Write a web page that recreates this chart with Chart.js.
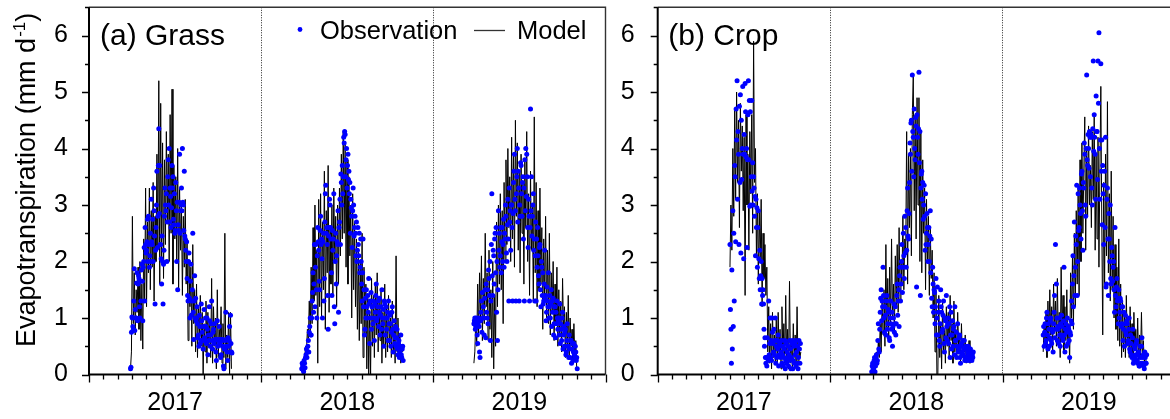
<!DOCTYPE html>
<html>
<head>
<meta charset="utf-8">
<script src="https://cdn.jsdelivr.net/npm/chart.js@4.4.0/dist/chart.umd.min.js"></script>
<style>
  html, body { margin: 0; padding: 0; background: #fff; overflow: hidden; }
  #wrap { position: relative; width: 1170px; height: 419px; overflow: hidden; background: #fff; }
  canvas { position: absolute; top: 0; }
  #grassChart { left: 0; }
  #cropChart { left: 610px; }
</style>
</head>
<body>
<div id="wrap">
  <canvas id="grassChart" width="615" height="419"></canvas>
  <canvas id="cropChart" width="580" height="419"></canvas>
</div>
<script>
// years on the x axis, one section of 365 days each
const years = ['2017', '2018', '2019'];
const daysPerYear = 365;
const yTicks = [0, 1, 2, 3, 4, 5, 6];
const modelStep = 2;   // model values every 2nd day
const obsStep = 1;     // observations daily

// first day of year of each season (2017, 2018, 2019)
const grassStart = [88, 86, 86];
const cropStart = [153, 88, 86];

// (a) Grass - model
const grassModel2017 = [
  0.1, 0.4, 2.8, 0.9, 1.8, 0.7, 1.5, 1.1, 1.9, 0.8,
  2.0, 0.6, 1.6, 0.45, 2.4, 1.3, 3.3, 1.2, 2.7, 1.8,
  3.3, 1.5, 2.9, 1.9, 3.4, 1.3, 2.8, 2.0, 3.9, 2.2,
  5.2, 1.6, 4.8, 2.0, 4.1, 1.7, 3.8, 2.3, 4.3, 2.7,
  3.9, 2.0, 4.6, 2.5, 5.05, 1.6, 3.7, 2.4, 3.5, 2.0,
  4.0, 1.5, 3.3, 2.2, 3.0, 1.4, 2.8, 1.9, 3.1, 1.6,
  2.4, 0.6, 2.0, 1.2, 1.9, 0.5, 2.3, 0.9, 1.5, 0.4,
  1.6, 0.3, 1.2, 0.7, 1.4, 0.5, 1.1, 0.0, 0.9, 0.4,
  1.3, 0.2, 1.1, 0.5, 0.9, 0.3, 1.7, 0.2, 1.2, 0.5,
  1.0, 0.1, 1.5, 0.3, 0.8, 0.6, 1.2, 0.2, 0.9, 0.3,
  2.5, 0.1, 0.7, 0.3, 1.1, 0.0, 1.1, 0.1
];
const grassModel2018 = [
  0.1, 0.2, 0.3, 0.2, 0.5, 0.4, 0.8, 0.6, 1.3, 0.7,
  1.9, 0.9, 2.6, 1.3, 3.0, 1.4, 2.2, 0.2, 3.1, 1.2,
  3.2, 1.0, 2.7, 1.5, 3.6, 0.8, 2.9, 1.8, 3.7, 1.1,
  2.6, 1.6, 3.0, 1.4, 3.3, 2.0, 2.8, 1.2, 3.0, 1.6,
  3.3, 2.1, 3.9, 2.4, 4.3, 2.5, 4.1, 1.9, 3.8, 1.6,
  3.5, 2.1, 3.0, 1.0, 3.2, 1.5, 2.7, 1.2, 2.4, 0.8,
  2.2, 0.6, 2.0, 0.9, 2.5, 0.3, 1.9, 0.7, 1.6, 0.1,
  1.4, 0.0, 1.1, 0.0, 1.7, 0.5, 1.4, 0.3, 1.6, 0.7,
  1.8, 0.4, 1.3, 0.6, 1.5, 0.2, 1.1, 0.5, 1.6, 0.3,
  1.2, 0.4, 1.4, 0.5, 1.0, 0.3, 1.3, 0.4, 0.9, 0.2,
  2.1, 0.4, 1.0, 0.3, 0.7, 0.2, 0.5, 0.4
];
const grassModel2019 = [
  0.2, 0.4, 1.0, 0.5, 1.6, 0.7, 1.8, 1.0, 2.1, 0.6,
  1.7, 0.9, 2.5, 1.2, 1.8, 0.6, 2.2, 0.8, 1.5, 0.3,
  2.0, 0.1, 1.4, 0.5, 2.7, 1.2, 3.0, 1.6, 3.2, 1.5,
  2.9, 0.9, 3.4, 2.0, 3.8, 2.3, 4.0, 2.6, 3.5, 2.0,
  4.2, 2.4, 3.9, 1.9, 4.5, 2.8, 4.1, 2.2, 3.6, 1.8,
  3.9, 2.5, 3.4, 1.6, 3.8, 2.6, 4.3, 2.0, 3.2, 1.4,
  3.6, 2.2, 3.0, 1.3, 4.56, 1.8, 3.4, 1.2, 2.9, 1.5,
  3.3, 1.6, 2.6, 0.8, 2.4, 1.3, 2.8, 1.0, 2.2, 0.9,
  2.5, 0.7, 1.8, 1.1, 2.0, 0.6, 1.6, 0.9, 1.9, 0.5,
  1.5, 0.7, 1.3, 0.4, 1.7, 0.8, 1.2, 0.3, 1.1, 0.4,
  1.4, 0.3, 1.0, 0.5, 0.8, 0.2, 0.9, 0.3, 0.6, 0.1
];

// (a) Grass - observation
const grassObs2017 = [
  0.1, 0.13, 0.75, 1.02, 1.0, 0.85, 0.8, 1.3, 1.87, 0.78, 1.15, 1.0, 1.0, 1.62, 1.8, 0.95, 1.6, 1.75, 1.7, 1.2,
  1.0, 1.65, 1.3, 1.85, 1.95, 1.65, 0.95, 1.9, 2.0, 2.25, 1.3, 2.6, 2.3, 2.15, 2.2, 2.35, 2.75, 2.0, 2.8, 2.3,
  1.9, 2.1, 2.5, 2.0, 3.1, 2.35, 2.3, 2.75, 2.0, 3.3, 2.9, 2.45, 1.25, 2.2, 2.6, 3.0, 3.6, 2.25, 2.8, 3.7,
  4.35, 2.85, 3.7, 2.3, 2.3, 2.05, 1.6, 2.45, 2.0, 1.25, 1.95, 2.2, 2.8, 3.3, 3.0, 2.9, 3.2, 2.0, 2.7, 3.5,
  3.8, 3.0, 4.0, 2.7, 3.3, 3.15, 2.6, 2.95, 3.7, 3.3, 3.5, 2.75, 2.65, 3.2, 2.5, 2.55, 3.4, 2.9, 2.0, 3.05,
  1.5, 2.65, 2.55, 3.05, 3.9, 2.5, 2.9, 3.0, 3.3, 2.9, 4.0, 3.05, 3.0, 2.55, 3.6, 2.45, 2.4, 2.2, 2.0, 2.35,
  1.7, 1.4, 1.3, 2.0, 2.15, 1.35, 1.0, 1.65, 1.95, 1.05, 1.3, 1.5, 2.5, 1.1, 0.62, 1.3, 1.75, 1.0, 1.35, 0.95,
  1.0, 1.2, 0.9, 0.65, 0.7, 0.5, 1.05, 0.85, 0.55, 0.6, 1.25, 0.95, 0.75, 0.6, 0.45, 0.85, 1.15, 0.65, 0.6, 1.0,
  0.85, 0.55, 1.0, 0.8, 0.35, 0.7, 0.6, 1.2, 0.95, 0.5, 0.7, 0.9, 1.3, 0.6, 0.45, 0.75, 0.8, 0.55, 0.9, 0.62,
  0.62, 0.4, 0.25, 0.62, 0.95, 0.5, 0.6, 0.62, 0.85, 0.55, 0.62, 0.3, 0.35, 0.62, 0.6, 0.5, 0.62, 0.15, 0.1, 0.45,
  0.45, 0.6, 1.1, 0.5, 0.62, 0.4, 0.25, 0.65, 0.5, 0.6, 0.85, 0.4, 1.05, 0.55, 0.4, 0.38
];
const grassObs2018 = [
  0.1, 0.2, 0.15, 0.08, 0.05, 0.25, 0.2, 0.12, 0.3, 0.35, 0.45, 0.3, 0.4, 0.5, 0.6, 0.4, 0.75, 0.85, 1.0, 0.7,
  0.7, 1.0, 1.3, 1.45, 1.8, 1.1, 1.6, 2.3, 1.2, 1.9, 2.3, 1.5, 1.0, 2.1, 2.6, 2.35, 2.2, 1.65, 1.5, 2.55,
  2.8, 2.3, 2.4, 2.05, 1.0, 2.35, 2.5, 1.3, 1.7, 2.7, 3.2, 3.35, 2.5, 2.6, 2.3, 1.4, 0.8, 2.45, 2.6, 3.1,
  3.0, 2.6, 2.4, 1.8, 1.4, 2.55, 2.2, 2.4, 3.2, 1.2, 0.9, 2.0, 2.5, 1.6, 2.1, 2.35, 2.3, 2.9, 1.1, 2.6,
  2.7, 3.1, 2.3, 3.55, 3.4, 3.0, 3.7, 3.2, 3.5, 4.2, 4.1, 4.3, 4.25, 3.5, 3.8, 4.0, 3.3, 3.7, 3.9, 3.45,
  3.6, 3.2, 3.4, 2.5, 3.1, 2.95, 2.8, 2.25, 2.9, 3.3, 3.0, 2.45, 2.6, 2.8, 2.5, 2.1, 2.7, 2.0, 2.2, 2.6,
  2.3, 2.1, 2.5, 1.8, 1.9, 2.4, 2.0, 1.6, 1.3, 1.8, 2.4, 1.2, 1.5, 0.7, 0.8, 1.35, 1.0, 1.5, 1.2, 1.0,
  1.4, 1.1, 1.7, 1.25, 0.55, 1.3, 1.0, 1.45, 0.8, 1.2, 1.2, 0.9, 1.3, 1.0, 0.6, 1.25, 1.1, 1.4, 1.6, 0.95,
  1.0, 1.2, 1.3, 0.85, 1.1, 1.35, 0.7, 1.05, 1.2, 0.8, 1.5, 1.0, 0.9, 1.15, 0.5, 1.3, 1.25, 0.7, 1.0, 1.2,
  0.8, 1.0, 1.1, 0.6, 1.3, 0.9, 0.6, 1.05, 0.9, 0.5, 0.75, 1.1, 1.2, 0.8, 0.4, 0.7, 0.95, 0.55, 0.65, 0.85,
  0.5, 0.65, 0.8, 0.45, 0.35, 0.55, 0.6, 0.3, 0.4, 0.5, 0.7, 0.35, 0.3, 0.45, 0.5, 0.25
];
const grassObs2019 = [
  0.9, 0.95, 1.0, 0.8, 0.85, 1.0, 0.95, 0.7, 0.55, 0.9, 1.0, 0.85, 0.4, 0.3, 0.95, 1.1, 1.3, 0.75, 1.45, 1.0,
  1.2, 1.0, 0.7, 1.35, 1.5, 0.65, 1.6, 1.1, 1.0, 1.5, 0.9, 1.85, 1.7, 1.4, 2.0, 0.6, 1.3, 2.3, 3.2, 1.75,
  1.4, 2.2, 2.1, 1.6, 2.4, 2.5, 1.8, 2.6, 1.1, 2.0, 0.6, 1.5, 2.9, 2.2, 2.5, 1.9, 2.1, 2.6, 1.8, 2.35,
  2.6, 2.0, 2.3, 2.75, 1.9, 2.5, 2.4, 3.0, 2.8, 2.15, 2.0, 2.65, 3.1, 2.4, 1.3, 3.3, 2.7, 2.9, 2.2, 3.0,
  3.0, 2.6, 1.3, 2.85, 3.4, 3.6, 3.9, 3.1, 2.9, 1.3, 3.2, 3.5, 4.0, 2.7, 3.6, 3.3, 1.3, 3.0, 2.8, 3.75,
  3.7, 3.2, 2.8, 3.4, 3.5, 2.4, 3.3, 1.3, 3.8, 2.9, 4.0, 3.15, 3.9, 3.5, 2.6, 2.25, 3.1, 2.8, 1.3, 2.6,
  4.7, 2.9, 3.5, 2.45, 2.8, 3.0, 3.2, 2.2, 2.4, 1.3, 2.1, 2.7, 1.3, 2.4, 1.9, 2.6, 2.1, 1.75, 1.6, 2.25,
  2.3, 1.5, 1.2, 2.0, 1.9, 1.4, 1.8, 1.25, 1.3, 1.6, 2.2, 1.35, 1.4, 0.95, 1.1, 1.55, 1.3, 1.2, 1.8, 1.0,
  1.2, 1.4, 1.0, 1.25, 1.5, 0.85, 1.3, 1.1, 1.35, 0.7, 0.9, 1.2, 1.2, 0.65, 1.1, 0.9, 1.3, 1.0, 0.8, 0.95,
  1.0, 0.7, 1.25, 0.55, 0.9, 0.8, 0.6, 1.0, 1.1, 0.45, 0.7, 0.85, 0.5, 0.75, 0.8, 0.35, 0.4, 0.6, 0.9, 0.5,
  0.5, 0.3, 0.7, 0.45, 0.3, 0.6, 0.6, 0.2, 0.45, 0.55, 0.25, 0.4, 0.55, 0.35, 0.3, 0.5, 0.4, 0.25, 0.3, 0.1
];

// (b) Crop - model
const cropModel2017 = [
  1.9, 3.0, 2.2, 4.0, 2.8, 4.7, 3.1, 5.0, 3.4, 4.5,
  2.6, 4.8, 3.6, 4.4, 2.9, 4.2, 1.4, 4.6, 3.0, 3.9,
  2.2, 4.3, 3.2, 4.6, 2.5, 5.9, 3.4, 4.0, 2.1, 3.2,
  1.6, 2.9, 2.0, 3.1, 1.2, 2.5, 1.7, 2.3, 1.4, 1.9,
  0.4, 1.2, 0.2, 0.9, 0.1, 1.1, 0.3, 0.7, 0.2, 1.0,
  0.2, 1.1, 0.4, 0.8, 0.1, 1.2, 0.3, 0.9, 0.2, 1.4,
  0.3, 0.8, 0.1, 1.65, 0.2, 0.6, 0.1, 0.9, 0.3, 0.7,
  0.1, 1.2, 0.2, 0.5, 0.3, 0.4
];
const cropModel2018 = [
  0.0, 0.1, 0.2, 0.1, 0.3, 0.4, 0.2, 0.6, 0.3, 0.9,
  0.4, 1.3, 0.7, 1.5, 0.5, 2.3, 0.8, 1.7, 0.6, 1.9,
  0.9, 2.4, 1.0, 1.6, 0.7, 2.1, 1.2, 2.3, 1.1, 2.6,
  1.3, 2.0, 1.6, 2.8, 1.5, 2.4, 2.2, 4.3, 1.6, 3.9,
  2.6, 4.0, 2.1, 4.6, 5.3, 2.9, 4.6, 2.4, 4.9, 3.0,
  4.9, 2.0, 4.3, 1.8, 3.8, 2.5, 3.3, 1.5, 3.1, 2.0,
  2.8, 1.4, 2.6, 1.7, 2.2, 1.0, 1.8, 0.4, 1.5, 0.0,
  0.0, 1.4, 0.3, 0.9, 0.1, 1.3, 0.4, 0.8, 0.2, 1.2,
  0.5, 1.1, 0.3, 1.4, 0.6, 0.9, 0.2, 1.3, 0.4, 0.8,
  0.3, 1.1, 0.5, 0.7, 0.2, 0.9, 0.3, 0.6, 0.4, 0.7,
  0.2, 0.5, 0.3, 0.6, 0.2, 0.4, 0.3, 0.3
];
const cropModel2019 = [
  0.4, 0.9, 0.5, 1.1, 0.3, 1.3, 0.6, 1.5, 0.7, 1.2,
  0.4, 1.6, 0.8, 1.3, 0.5, 1.7, 0.6, 1.1, 0.3, 1.9,
  0.7, 1.4, 0.4, 1.2, 0.6, 1.5, 0.5, 0.9, 0.2, 1.8,
  1.0, 2.1, 0.8, 2.5, 1.2, 2.9, 1.6, 3.3, 1.4, 3.8,
  2.0, 4.1, 2.5, 3.6, 4.56, 2.2, 4.0, 2.8, 4.4, 3.0,
  3.7, 2.6, 4.3, 3.1, 4.6, 2.2, 3.9, 2.4, 4.2, 1.9,
  3.6, 5.1, 2.7, 0.7, 3.4, 1.6, 3.9, 2.1, 4.83, 1.8,
  3.2, 1.3, 3.6, 1.5, 2.8, 1.0, 2.3, 0.8, 1.9, 0.6,
  2.4, 0.5, 1.6, 0.3, 1.3, 0.4, 1.1, 0.3, 1.4, 0.5,
  1.0, 0.3, 1.2, 0.4, 0.9, 0.2, 1.1, 0.5, 0.8, 0.3,
  1.0, 0.2, 0.7, 0.3, 1.1, 0.3, 0.6, 0.2, 0.4, 0.2
];

// (b) Crop - observation
const cropObs2017 = [
  2.3, 1.15, 0.8, 0.2, 1.85, 0.45, 2.9, 0.85, 2.5, 1.3,
  3.7, 3.5, 2.35, 4.7, 4.15, 5.2, 3.1, 4.3, 3.9, 2.3,
  4.75, 3.4, 4.95, 2.15, 4.5, 3.45, 4.0, 5.1, 3.9, 2.05,
  4.25, 3.9, 5.15, 4.65, 3.85, 4.0, 2.25, 3.8, 4.6, 5.2,
  3.8, 4.85, 2.98, 4.65, 3.0, 3.5, 4.85, 3.25, 3.75, 3.0,
  3.5, 3.3, 2.8, 3.15, 2.1, 3.1, 2.6, 2.95, 1.9, 2.6,
  2.9, 2.05, 1.7, 2.2, 1.5, 1.75, 2.0, 1.25, 1.7, 1.4,
  1.5, 1.25, 0.8, 0.5, 0.65, 0.3, 0.2, 0.3, 0.15, 0.65,
  0.3, 0.25, 1.3, 0.35, 0.55, 1.0, 0.3, 0.6, 0.25, 1.0,
  0.75, 0.55, 0.4, 0.8, 0.35, 0.6, 1.0, 0.2, 0.5, 0.3,
  0.6, 0.45, 0.7, 0.15, 0.35, 0.55, 0.5, 0.3, 0.4, 0.6,
  0.2, 0.35, 0.5, 0.15, 0.3, 0.45, 0.6, 0.1, 0.25, 0.55,
  0.2, 0.4, 0.3, 0.5, 0.15, 0.35, 0.6, 0.25, 0.45, 0.1,
  0.3, 0.55, 0.6, 0.1, 0.25, 0.5, 0.2, 0.55, 0.35, 0.6,
  0.15, 0.4, 0.2, 0.5, 0.1, 0.3, 0.6, 0.45, 0.2, 0.55
];
const cropObs2018 = [
  0.05, 0.15, 0.2, 0.1, 0.1, 0.25, 0.3, 0.05, 0.15, 0.3, 0.35, 0.2, 0.25, 0.6, 0.9, 0.45, 0.4, 0.8, 1.1, 1.35,
  1.5, 0.95, 1.3, 1.2, 1.9, 1.4, 1.0, 0.75, 1.2, 1.05, 0.7, 1.3, 1.4, 0.8, 0.9, 1.15, 1.1, 0.65, 0.6, 1.0,
  1.3, 0.9, 0.8, 1.1, 0.5, 0.85, 1.0, 1.25, 0.75, 0.9, 1.2, 0.7, 0.9, 1.4, 1.6, 1.05, 1.3, 1.5, 0.85, 1.75,
  1.9, 1.3, 1.6, 2.0, 2.3, 1.45, 1.9, 2.5, 2.1, 1.7, 2.8, 2.15, 2.6, 1.9, 2.2, 2.9, 3.3, 2.45, 2.4, 2.85,
  3.4, 4.1, 3.9, 4.45, 4.5, 3.6, 5.3, 4.3, 4.2, 3.5, 4.7, 4.0, 3.8, 4.55, 4.4, 1.55, 4.6, 4.2, 3.9, 4.35,
  5.35, 3.75, 4.3, 1.4, 3.3, 3.55, 3.6, 3.1, 3.4, 2.75, 3.0, 3.35, 2.8, 2.2, 3.2, 2.3, 2.5, 2.85, 2.6, 2.0,
  2.3, 2.6, 2.0, 2.45, 2.9, 1.8, 2.4, 1.35, 1.2, 1.9, 1.6, 1.1, 1.5, 1.45, 0.9, 1.2, 1.7, 0.7, 1.0, 1.55,
  0.7, 1.1, 1.3, 0.6, 0.5, 0.9, 1.5, 1.2, 1.1, 0.75, 0.8, 1.05, 1.3, 0.55, 0.4, 1.0, 0.95, 0.65, 1.4, 0.85,
  0.6, 0.9, 1.0, 0.55, 0.9, 1.2, 0.3, 0.7, 1.1, 0.45, 0.7, 0.95, 0.5, 0.8, 0.85, 0.35, 1.2, 0.6, 0.6, 0.75,
  0.3, 0.5, 0.9, 0.4, 0.45, 0.65, 0.7, 0.3, 0.2, 0.5, 0.55, 0.35, 0.4, 0.6, 0.35, 0.45, 0.6, 0.25, 0.3, 0.5,
  0.45, 0.3, 0.25, 0.4, 0.5, 0.35, 0.35, 0.25, 0.3, 0.45, 0.4, 0.3, 0.25, 0.35, 0.3, 0.4
];
const cropObs2019 = [
  0.7, 0.85, 0.5, 0.75, 0.9, 0.55, 0.6, 1.0, 1.1, 0.7, 0.45, 0.9, 0.8, 0.5, 0.65, 0.95, 1.0, 0.6, 0.55, 0.8,
  0.75, 0.4, 0.9, 1.1, 1.4, 0.65, 2.3, 0.8, 1.6, 1.0, 0.6, 0.85, 0.8, 0.55, 1.0, 0.7, 0.5, 0.9, 0.7, 1.05,
  0.85, 0.65, 0.6, 0.95, 1.9, 0.7, 0.4, 0.8, 0.9, 0.5, 0.75, 1.0, 0.55, 0.85, 0.8, 0.6, 0.3, 0.75, 0.7, 0.95,
  1.3, 0.9, 1.6, 2.1, 1.2, 1.75, 2.7, 1.4, 1.9, 2.45, 2.3, 3.35, 1.4, 2.0, 3.2, 2.55, 2.6, 3.3, 3.0, 2.85,
  2.4, 3.55, 3.6, 2.9, 2.2, 3.4, 3.3, 4.1, 3.9, 3.0, 2.8, 4.0, 5.3, 3.8, 3.7, 4.25, 4.0, 3.65, 4.3, 4.2,
  3.5, 4.25, 4.2, 3.3, 3.0, 4.35, 5.55, 3.95, 4.6, 4.2, 3.9, 3.1, 4.93, 4.3, 4.3, 3.45, 5.55, 4.8, 6.05, 4.0,
  3.1, 4.15, 5.5, 3.6, 4.15, 2.65, 3.7, 3.2, 2.3, 3.35, 3.6, 2.6, 4.2, 1.55, 1.6, 3.1, 3.3, 2.4, 1.4, 2.85,
  2.4, 2.0, 3.0, 1.7, 1.6, 2.25, 2.1, 1.65, 1.9, 2.0, 1.5, 1.1, 2.6, 1.4, 1.2, 1.55, 1.7, 1.3, 1.35, 0.9,
  1.5, 1.0, 1.1, 1.35, 1.3, 0.85, 0.9, 1.2, 1.2, 0.6, 0.8, 1.1, 0.5, 0.9, 1.05, 0.75, 0.7, 0.95, 0.9, 0.55,
  0.6, 0.8, 1.0, 0.45, 0.4, 0.7, 0.55, 0.35, 0.3, 0.65, 0.8, 0.2, 0.25, 0.5, 0.45, 0.3, 0.35, 0.55, 0.6, 0.25,
  0.2, 0.35, 0.4, 0.15, 0.15, 0.5, 0.3, 0.2, 0.5, 0.65, 0.2, 0.3, 0.35, 0.15, 0.1, 0.4, 0.3, 0.2, 0.2, 0.35
];

const fontFamily = '"Liberation Sans", Arial, Helvetica, sans-serif';
Chart.defaults.font.family = fontFamily;
Chart.defaults.color = '#000';

function seasonPoints(values, yearIdx, startDay, step) {
    return values.map((v, i) => ({ x: yearIdx * daysPerYear + startDay + i * step, y: v }));
}

function buildDatasets(models, observations, starts) {
    const sets = [];
    observations.forEach((obs, k) => {
        sets.push({
            label: 'Observation',
            data: seasonPoints(obs, k, starts[k], obsStep),
            showLine: false,
            pointRadius: 2.5,
            pointBackgroundColor: '#0000ff',
            pointBorderWidth: 0,
            order: 1
        });
    });
    models.forEach((mod, k) => {
        sets.push({
            label: 'Model',
            data: seasonPoints(mod, k, starts[k], modelStep),
            showLine: true,
            borderColor: '#000',
            borderWidth: 1,
            pointRadius: 0,
            tension: 0,
            order: 2
        });
    });
    return sets;
}

function monthTicks() {
    const n = years.length * 12;
    const t = [];
    for (let i = 0; i <= n; i++) t.push({ value: i * daysPerYear / 12 });
    return t;
}

// frame, tick marks, panel label, legend and y title
const decor = {
    id: 'decor',
    afterDraw(chart, args, opts) {
        const { ctx, chartArea: a, scales: { x, y } } = chart;
        ctx.save();
        ctx.strokeStyle = '#000';
        ctx.lineWidth = 1.3;
        ctx.beginPath();
        yTicks.forEach(v => {
            [v, v + 0.5].forEach((t, j) => {
                if (t > y.max) return;
                const py = Math.round(y.getPixelForValue(t)) + 0.5;
                const len = j === 0 ? 7 : 4;
                ctx.moveTo(a.left - len, py);
                ctx.lineTo(a.left, py);
            });
        });
        x.ticks.forEach((t, i) => {
            const px = Math.round(x.getPixelForValue(t.value)) + 0.5;
            const len = i % 12 === 0 ? 8 : 5;
            ctx.moveTo(px, a.bottom);
            ctx.lineTo(px, a.bottom + len);
        });
        ctx.stroke();

        // top and right border
        ctx.strokeStyle = '#333';
        ctx.lineWidth = 1.4;
        ctx.beginPath();
        ctx.moveTo(a.left, a.top);
        ctx.lineTo(a.right, a.top);
        ctx.lineTo(a.right, a.bottom);
        ctx.stroke();
        // axes
        ctx.strokeStyle = '#000';
        ctx.lineWidth = 2;
        ctx.beginPath();
        ctx.moveTo(a.left, a.top);
        ctx.lineTo(a.left, a.bottom);
        ctx.lineTo(a.right, a.bottom);
        ctx.stroke();

        ctx.fillStyle = '#000';
        ctx.textBaseline = 'alphabetic';
        ctx.textAlign = 'left';
        ctx.font = '30px ' + fontFamily;
        ctx.fillText(opts.label, opts.labelX, 45);

        if (opts.legend) {
            ctx.fillStyle = '#0000ff';
            ctx.beginPath();
            ctx.arc(300, 29.5, 2.4, 0, Math.PI * 2);
            ctx.fill();
            ctx.strokeStyle = '#333';
            ctx.lineWidth = 1.3;
            ctx.beginPath();
            ctx.moveTo(474, 30.5);
            ctx.lineTo(505, 30.5);
            ctx.stroke();
            ctx.fillStyle = '#000';
            ctx.font = '25.5px ' + fontFamily;
            ctx.fillText('Observation', 320, 38.5);
            ctx.fillText('Model', 517, 38.5);
        }

        if (opts.yTitle) {
            ctx.save();
            ctx.translate(34.5, 347);
            ctx.rotate(-Math.PI / 2);
            ctx.font = '27px ' + fontFamily;
            const main = 'Evapotranspiration (mm d';
            ctx.fillText(main, 0, 0);
            let w = ctx.measureText(main).width;
            ctx.font = '17px ' + fontFamily;
            ctx.fillText('-1', w + 1, -10);
            w += ctx.measureText('-1').width + 1;
            ctx.font = '27px ' + fontFamily;
            ctx.fillText(')', w, 0);
            ctx.restore();
        }
        ctx.restore();
    }
};

function makeOptions(yWidth, padRight, tickPad, deco) {
    return {
        responsive: false,
        animation: false,
        events: [],
        layout: { padding: { top: 7.3, right: padRight, bottom: 0, left: 0 } },
        plugins: {
            legend: { display: false },
            tooltip: { enabled: false },
            decor: deco
        },
        scales: {
            x: {
                type: 'linear',
                min: 0,
                max: years.length * daysPerYear,
                afterBuildTicks: s => { s.ticks = monthTicks(); },
                afterFit: s => { s.height = 44.5; s.paddingLeft = 0; s.paddingRight = 0; },
                grid: {
                    drawTicks: false,
                    lineWidth: 1,
                    color: c => (c.index % 12 === 0 && c.index > 0 && c.index < years.length * 12) ? '#222' : 'rgba(0,0,0,0)'
                },
                border: { display: false, dash: [1, 1.5] },
                ticks: {
                    autoSkip: false,
                    maxRotation: 0,
                    padding: 14,
                    font: { size: 25 },
                    color: '#000',
                    callback: (v, i) => i % 12 === 6 ? years[(i - 6) / 12] : ''
                }
            },
            y: {
                min: 0,
                max: 6.5,
                afterBuildTicks: s => { s.ticks = yTicks.map(v => ({ value: v })); },
                afterFit: s => { s.width = yWidth; s.paddingTop = 0; s.paddingBottom = 0; },
                grid: { display: false, drawTicks: false },
                border: { display: false },
                ticks: { padding: tickPad, font: { size: 25 }, color: '#000' }
            }
        }
    };
}

const grassCtx = document.getElementById('grassChart').getContext('2d');
new Chart(grassCtx, {
    type: 'scatter',
    data: {
        datasets: buildDatasets(
            [grassModel2017, grassModel2018, grassModel2019],
            [grassObs2017, grassObs2018, grassObs2019],
            grassStart)
    },
    options: makeOptions(89, 9.5, 21, { label: '(a) Grass', labelX: 100, legend: true, yTitle: true }),
    plugins: [decor]
});

const cropCtx = document.getElementById('cropChart').getContext('2d');
new Chart(cropCtx, {
    type: 'scatter',
    data: {
        datasets: buildDatasets(
            [cropModel2017, cropModel2018, cropModel2019],
            [cropObs2017, cropObs2018, cropObs2019],
            cropStart)
    },
    options: makeOptions(47.7, 15, 23, { label: '(b) Crop', labelX: 58.3, legend: false, yTitle: false }),
    plugins: [decor]
});
</script>
</body>
</html>
